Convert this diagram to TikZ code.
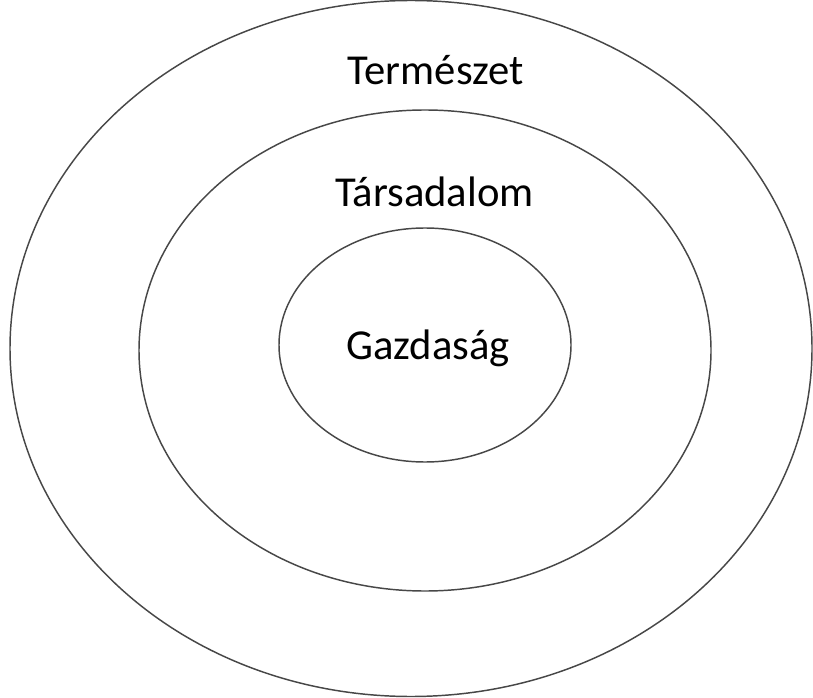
\documentclass[tikz,border=0pt]{standalone}
\usepackage{fontspec}
\setmainfont{Carlito}

\begin{document}
\begin{tikzpicture}[x=0.75pt,y=-0.75pt]
\tikzset{ring/.style={draw=black!72,line width=1.1pt},
  label/.style={anchor=base,font=\fontsize{32}{38}\selectfont}}
\useasboundingbox (0,0) rectangle (813,698);

\draw[ring] (411,348.5) ellipse [x radius=401,y radius=348];%Termeszet
\draw[ring] (425,350.5) ellipse [x radius=286,y radius=240.5];%Tarsadalom
\draw[ring] (425,345) ellipse [x radius=146,y radius=117];%Gazdasag

\node[label] (termeszet) at (435.5,85) {Természet};
\node[label] (tarsadalom) at (434.5,207) {Társadalom};
\node[label] (gazdasag) at (428,359) {Gazdaság};
\end{tikzpicture}
\end{document}
